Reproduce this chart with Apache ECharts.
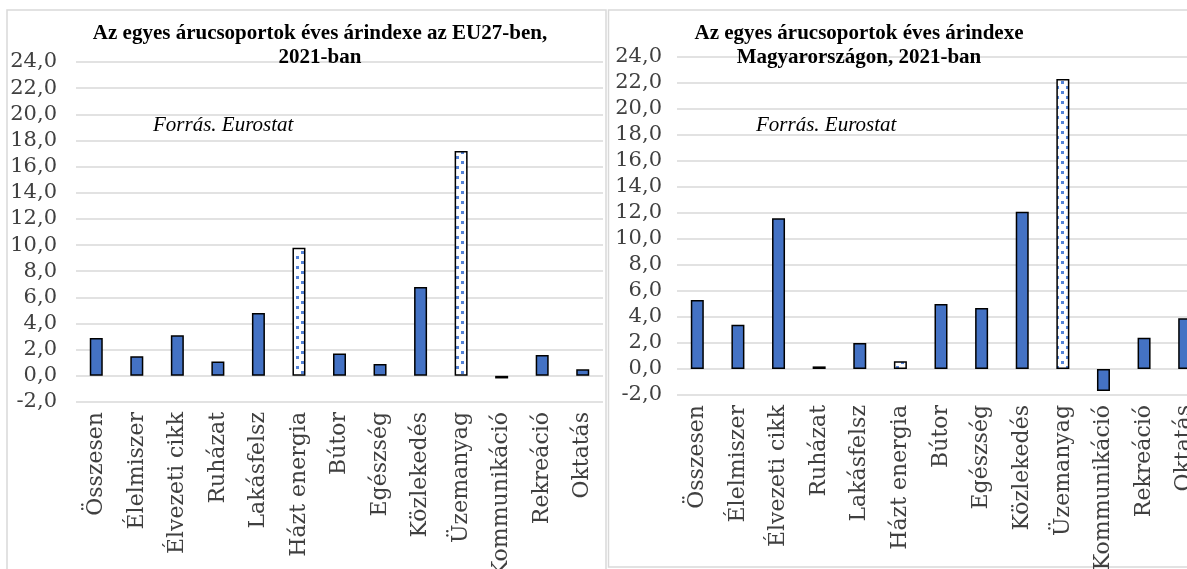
<!DOCTYPE html>
<html>
<head>
<meta charset="utf-8">
<script src="https://cdn.jsdelivr.net/npm/echarts@6/dist/echarts.min.js"></script>
<style>
  html, body { margin: 0; padding: 0; background: #fff; }
  #chart { width: 1187px; height: 569px; }
</style>
</head>
<body>
<div id="chart"></div>
<script>
// árucsoportok
const categories = ['Összesen', 'Élelmiszer', 'Élvezeti cikk', 'Ruházat', 'Lakásfelsz',
  'Házt energia', 'Bútor', 'Egészség', 'Közlekedés', 'Üzemanyag', 'Kommunikáció',
  'Rekreáció', 'Oktatás']
// EU27 éves árindex, 2021 (%)
const euValues = [2.9, 1.5, 3.1, 1.1, 4.8, 9.8, 1.7, 0.9, 6.8, 17.2, -0.2, 1.6, 0.5]
// Magyarország éves árindex, 2021 (%)
const huValues = [5.3, 3.4, 11.6, 0.2, 2.0, 0.6, 5.0, 4.7, 12.1, 22.3, -1.7, 2.4, 3.9]
// energia jellegű csoportok (pöttyös minta)
const dottedGroups = ['Házt energia', 'Üzemanyag']
const yTicks = { min: -2, max: 24, interval: 2 }

const BLUE = '#4472c4'

// pöttyös kitöltés (Excel minta)
function makeDots() {
  const c = document.createElement('canvas')
  c.width = 10; c.height = 10
  const ctx = c.getContext('2d')
  ctx.fillStyle = '#fff'
  ctx.fillRect(0, 0, 10, 10)
  ctx.fillStyle = '#5584d8'
  ctx.fillRect(1, 1, 3, 3)
  ctx.fillRect(6, 6, 3, 3)
  return c
}
const dots = { image: makeDots(), repeat: 'repeat' }

function barData(values) {
  return values.map((v, i) => ({
    value: v,
    itemStyle: dottedGroups.includes(categories[i]) ? { color: dots } : { color: BLUE }
  }))
}

const axisFont = 'DejaVu Serif'
const fmt = v => v.toFixed(1).replace('.', ',')

function yAxis(idx, margin) {
  return {
    type: 'value', gridIndex: idx, ...yTicks,
    axisLine: { show: false }, axisTick: { show: false },
    splitLine: { lineStyle: { color: '#d9d9d9', width: 1.5 } },
    axisLabel: { formatter: fmt, fontFamily: axisFont, fontSize: 21, color: '#404040', margin }
  }
}
function xAxis(idx) {
  return {
    type: 'category', gridIndex: idx, data: categories,
    axisLine: { show: false }, axisTick: { show: false },
    axisLabel: { rotate: 90, interval: 0, fontFamily: axisFont, fontSize: 22, color: '#404040', margin: 10 }
  }
}

const titleStyle = { fontFamily: 'Liberation Serif', fontWeight: 'bold', fontSize: 21, lineHeight: 24, color: '#000' }
const noteStyle = { fontFamily: 'Liberation Serif', fontStyle: 'italic', fontWeight: 'normal', fontSize: 21, color: '#000' }

const chart = echarts.init(document.getElementById('chart'))
chart.setOption({
  backgroundColor: '#fff',
  animation: false,
  title: [
    { text: 'Az egyes árucsoportok éves árindexe az EU27-ben,\n2021-ban', left: 320, top: 22, textAlign: 'center',
      padding: 0, textStyle: titleStyle },
    { text: 'Az egyes árucsoportok éves árindexe\nMagyarországon, 2021-ban', left: 859, top: 22, textAlign: 'center',
      padding: 0, textStyle: titleStyle },
    { text: 'Forrás. Eurostat', left: 153, top: 115, padding: 0, textStyle: noteStyle },
    { text: 'Forrás. Eurostat', left: 756, top: 115, padding: 0, textStyle: noteStyle }
  ],
  graphic: [
    { type: 'rect', shape: { x: 7, y: 10, width: 599, height: 580 }, style: { fill: null, stroke: '#d9d9d9', lineWidth: 1.5 }, z: 0 },
    { type: 'rect', shape: { x: 608.5, y: 10, width: 620, height: 557 }, style: { fill: null, stroke: '#d9d9d9', lineWidth: 1.5 }, z: 0 }
  ],
  grid: [
    { left: 76, top: 62, width: 527, height: 340, containLabel: false, outerBoundsMode: 'none' },
    { left: 677, top: 57, width: 528, height: 338, containLabel: false, outerBoundsMode: 'none' }
  ],
  xAxis: [xAxis(0), xAxis(1)],
  yAxis: [yAxis(0, 19), yAxis(1, 15)],
  series: [
    { type: 'bar', xAxisIndex: 0, yAxisIndex: 0, data: barData(euValues), barWidth: 13,
      itemStyle: { borderColor: '#000', borderWidth: 1.5 } },
    { type: 'bar', xAxisIndex: 1, yAxisIndex: 1, data: barData(huValues), barWidth: 13,
      itemStyle: { borderColor: '#000', borderWidth: 1.5 } }
  ]
})
</script>
</body>
</html>
